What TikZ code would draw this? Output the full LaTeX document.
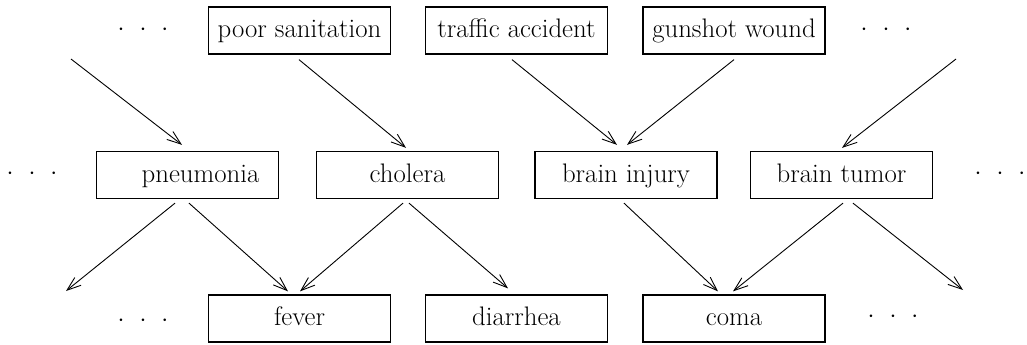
\documentclass[tikz,border=0pt]{standalone}
\usetikzlibrary{arrows.meta,calc}
\begin{document}
\begin{tikzpicture}[x=1pt,y=-1pt,
  box/.style={draw,line width=1.3pt,minimum width=182pt,minimum height=47pt,inner sep=0pt,text height=18pt,text depth=4pt,font=\fontsize{26.8}{32}\selectfont},
  dotsnode/.style={inner sep=0pt,font=\fontsize{26.8}{32}\selectfont},
  arr/.style={line width=0.9pt,-{Straight Barb[length=14pt,width=10pt,line width=0.9pt]}}]
\useasboundingbox (0,0) rectangle (1027,345);
% top row
\node[box] (ps) at (299.5,30.5) {poor sanitation};
\node[box] (ta) at (516.5,30.5) {traffic accident};
\node[box] (gw) at (734,30.5) {gunshot wound};
% middle row
\node[box] (pn) at (187.5,175) {\hspace*{26pt}pneumonia};
\node[box] (ch) at (407.5,175) {cholera};
\node[box] (bi) at (626,175) {brain injury};
\node[box] (bt) at (841.5,175) {brain tumor};
% bottom row
\node[box] (fe) at (299.5,318.5) {fever};
\node[box] (di) at (516.5,318.5) {diarrhea};
\node[box] (co) at (734,318.5) {coma};
% dots
\node[dotsnode] (d1) at (143,30) {${\cdot}\hspace{15pt}{\cdot}\hspace{15pt}{\cdot}$};
\node[dotsnode] (d2) at (886,30) {${\cdot}\hspace{15pt}{\cdot}\hspace{15pt}{\cdot}$};
\node[dotsnode] (d3) at (32,174) {${\cdot}\hspace{15pt}{\cdot}\hspace{15pt}{\cdot}$};
\node[dotsnode] (d4) at (1000,174) {${\cdot}\hspace{15pt}{\cdot}\hspace{15pt}{\cdot}$};
\node[dotsnode] (d5) at (143,321) {${\cdot}\hspace{15pt}{\cdot}\hspace{15pt}{\cdot}$};
\node[dotsnode] (d6) at (893,317) {${\cdot}\hspace{15pt}{\cdot}\hspace{15pt}{\cdot}$};
% free ends
\coordinate (c1) at (71,59);
\coordinate (c5) at (956,59);
\coordinate (c6) at (66,291);
\coordinate (c12) at (963,290);
% arrows top -> middle
\draw[arr] (c1) -- ($(pn.north)+(-5.5,-6)$);
\draw[arr] ($(ps.south)+(-0.5,5)$) -- ($(ch.north)+(-1.5,-3)$);
\draw[arr] ($(ta.south)+(-4.5,5)$) -- ($(bi.north)+(-9,-6)$);
\draw[arr] ($(gw.south)+(0,5)$) -- ($(bi.north)+(1,-6)$);
\draw[arr] (c5) -- ($(bt.north)+(0.5,-3)$);
% arrows middle -> bottom
\draw[arr] ($(pn.south)+(-12.5,4)$) -- (c6);
\draw[arr] ($(pn.south)+(1.5,4)$) -- ($(fe.north)+(-11.5,-3)$);
\draw[arr] ($(ch.south)+(-4.5,4)$) -- ($(fe.north)+(0.5,-3)$);
\draw[arr] ($(ch.south)+(1.5,4)$) -- ($(di.north)+(-8.5,-6)$);
\draw[arr] ($(bi.south)+(-2,4)$) -- ($(co.north)+(-16,-3)$);
\draw[arr] ($(bt.south)+(1.5,4)$) -- ($(co.north)+(-1,-3)$);
\draw[arr] ($(bt.south)+(11.5,4)$) -- (c12);
\end{tikzpicture}
\end{document}
